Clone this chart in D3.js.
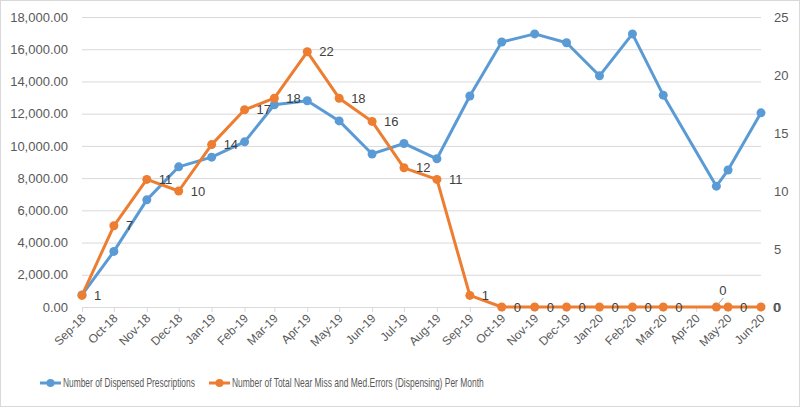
<!DOCTYPE html>
<html><head><meta charset="utf-8">
<script src="https://cdn.jsdelivr.net/npm/d3@7"></script>
<style>body{margin:0;background:#fff}svg{display:block}</style>
</head><body><svg id="c" width="800" height="407"></svg>
<script>
const dates = ["2018-09-01","2018-10-01","2018-11-01","2018-12-01","2019-01-01","2019-02-01","2019-03-01","2019-04-01","2019-05-01","2019-06-01","2019-07-01","2019-08-01","2019-09-01","2019-10-01","2019-11-01","2019-12-01","2020-01-01","2020-02-01","2020-03-01","2020-04-20","2020-05-01","2020-06-01"];
const prescriptions = [750,3450,6650,8700,9300,10250,12550,12800,11550,9500,10150,9200,13100,16450,16950,16400,14350,16950,13150,7500,8500,12050];
const errors = [1,7,11,10,14,17,18,22,18,16,12,11,1,0,0,0,0,0,0,0,0,0];
const leftTicks = [0,2000,4000,6000,8000,10000,12000,14000,16000,18000];
const rightTicks = [0,5,10,15,20,25];
const seriesNames = ["Number of Dispensed Prescriptions","Number of Total Near Miss and Med.Errors (Dispensing) Per Month"];
const colors = ["#5B9BD5","#ED7D31"];

const parse = d3.timeParse("%Y-%m-%d");
const xs = dates.map(parse);
const svg = d3.select("#c");
const font = "'Liberation Sans', Arial, sans-serif";
svg.append("rect").attr("x",0.5).attr("y",0.5).attr("width",799).attr("height",406)
  .attr("fill","#fff").attr("stroke","#d9d9d9");

const L = 82, R = 761, T = 17, B = 307;
const x = d3.scaleTime().domain([parse("2018-09-01"), parse("2020-06-01")]).range([L, R]);
const yL = d3.scaleLinear().domain([0,18000]).range([B,T]);
const yR = d3.scaleLinear().domain([0,25]).range([B,T]);

// gridlines
svg.append("g").selectAll("line").data(leftTicks.slice(1)).join("line")
  .attr("x1",L).attr("x2",R).attr("y1",d=>yL(d)+0.5).attr("y2",d=>yL(d)+0.5)
  .attr("stroke","#d9d9d9").attr("stroke-width",1);

// left axis
const gl = svg.append("g").attr("transform",`translate(${L},0)`)
  .call(d3.axisLeft(yL).tickValues(leftTicks).tickFormat(d3.format(",.2f")).tickSize(0).tickPadding(14));
gl.select(".domain").remove();
gl.selectAll("text").attr("font-family",font).attr("font-size",13).attr("fill","#595959");

// right axis
const gr = svg.append("g").attr("transform",`translate(${R},0)`)
  .call(d3.axisRight(yR).tickValues(rightTicks).tickSize(0).tickPadding(13));
gr.select(".domain").remove();
gr.selectAll("text").attr("font-family",font).attr("font-size",13).attr("fill","#595959");

// x axis
const months = d3.timeMonth.range(parse("2018-09-01"), parse("2020-06-02"));
const gx = svg.append("g").attr("transform",`translate(0,${B})`)
  .call(d3.axisBottom(x).tickValues(months).tickFormat(d3.timeFormat("%b-%y")).tickSize(5).tickSizeOuter(0));
gx.select(".domain").attr("stroke","#d9d9d9");
gx.selectAll(".tick line").attr("stroke","#d9d9d9");
gx.selectAll("text").attr("font-family",font).attr("font-size",12).attr("fill","#595959")
  .attr("text-anchor","end").attr("dy",null).attr("y",null)
  .attr("transform","translate(4,12) rotate(-45)");

// lines
const series = [prescriptions.map((v,i)=>[x(xs[i]),yL(v)]), errors.map((v,i)=>[x(xs[i]),yR(v)])];
series.forEach((pts,k)=>{
  svg.append("path").attr("d",d3.line()(pts)).attr("fill","none")
    .attr("stroke",colors[k]).attr("stroke-width",3).attr("stroke-linejoin","round");
  svg.append("g").selectAll("circle").data(pts).join("circle")
    .attr("cx",d=>d[0]).attr("cy",d=>d[1]).attr("r",4.5).attr("fill",colors[k]);
});

// data labels for errors
const lab = svg.append("g").attr("font-family",font).attr("font-size",13).attr("fill","#404040");
errors.forEach((v,i)=>{
  const px = x(xs[i]), py = yR(v);
  if (i===19) {
    lab.append("line").attr("x1",px+1).attr("y1",py-2).attr("x2",px+7).attr("y2",py-9)
      .attr("stroke","#a6a6a6").attr("stroke-width",1);
    lab.append("text").attr("x",px+3).attr("y",py-17).attr("dy","0.35em").text(v);
  } else {
    lab.append("text").attr("x",px+12).attr("y",py).attr("dy","0.35em").text(v);
  }
});

// legend
const leg = [{x:40,tx:63,w:132},{x:209,tx:232,w:252}];
leg.forEach((l,k)=>{
  const g = svg.append("g");
  g.append("line").attr("x1",l.x).attr("x2",l.x+21).attr("y1",383).attr("y2",383)
    .attr("stroke",colors[k]).attr("stroke-width",3);
  g.append("circle").attr("cx",l.x+10.5).attr("cy",383).attr("r",4).attr("fill",colors[k]);
  const tg = g.append("g");
  const t = tg.append("text").attr("x",0).attr("y",0).attr("dy","0.35em")
    .attr("font-family",font).attr("font-size",12).attr("fill","#595959").text(seriesNames[k]);
  const sx = Math.min(1, l.w / t.node().getComputedTextLength());
  tg.attr("transform",`translate(${l.tx},383) scale(${sx},1)`);
});
</script></body></html>
